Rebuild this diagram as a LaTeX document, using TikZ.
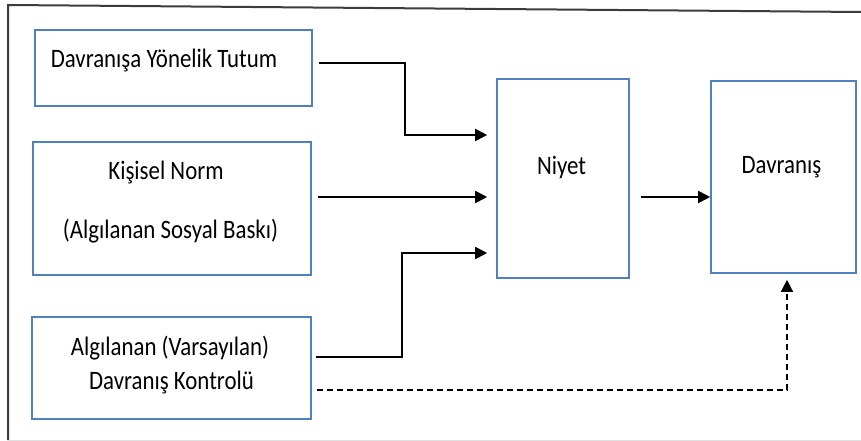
\documentclass[tikz,border=0pt]{standalone}
\usepackage{fontspec}
\setmainfont[FakeStretch=0.86]{Carlito}
\usetikzlibrary{arrows.meta}

\definecolor{boxblue}{RGB}{79,129,189}
\definecolor{framegray}{RGB}{60,60,60}

\tikzset{
  box/.style={draw=boxblue, line width=1.6pt, inner sep=0pt},
  txt/.style={anchor=base, inner sep=0pt, font=\fontsize{26.6}{30}\selectfont},
  link/.style={->, line width=1.8pt, shorten >=9pt},
}

\begin{document}
\begin{tikzpicture}[x=1pt, y=-1pt, >={Triangle[length=12pt,width=12pt]}]
  \useasboundingbox (0,0) rectangle (861,441);

  % outer frame
  \draw[framegray, line width=2pt] (861,12) -- (8,5) -- (8,440);
  \draw[black!12, line width=1pt] (8,440) -- (861,440);

  % boxes
  \node[box, minimum width=277pt, minimum height=76pt] (tutum) at (173.5,68) {};
  \node[box, minimum width=278pt, minimum height=133pt] (norm) at (172,208.5) {};
  \node[box, minimum width=279pt, minimum height=102pt] (kontrol) at (171.5,368) {};
  \node[box, minimum width=132pt, minimum height=199pt] (niyet) at (563,178.5) {};
  \node[box, minimum width=145pt, minimum height=192pt] (davranis) at (783.5,177) {};

  % texts
  \node[txt] (tutumtxt) at (164,68) {Davranışa Yönelik Tutum};
  \node[txt] (normtxt) at (166,179) {Kişisel Norm};
  \node[txt] (baskitxt) at (170.5,238) {(Algılanan Sosyal Baskı)};
  \node[txt] (algitxt) at (170,355) {Algılanan (Varsayılan)};
  \node[txt] (kontroltxt) at (171.5,389) {Davranış Kontrolü};
  \node[txt] (niyettxt) at (561.5,174) {Niyet};
  \node[txt] (davranistxt) at (781.5,173) {Davranış};

  % connectors
  \draw[link] ([xshift=6pt,yshift=5pt]tutum.east) -- ++(86,0)
    |- ([yshift=43.5pt]niyet.west);
  \draw[link] ([xshift=6pt,yshift=11.5pt]norm.east) -- ([yshift=-18.5pt]niyet.west);
  \draw[link] ([xshift=4pt,yshift=11pt]kontrol.east) -- ++(86,0)
    |- ([yshift=-74.5pt]niyet.west);
  \draw[link, shorten >=0pt] ([xshift=11pt,yshift=-18.5pt]niyet.east)
    -- ([yshift=-20pt]davranis.west);
  \draw[link, line width=1.4pt, dash pattern=on 6pt off 4pt, shorten >=6pt]
    ([xshift=5pt,yshift=-22pt]kontrol.east) -| ([xshift=3.5pt]davranis.south);
\end{tikzpicture}
\end{document}
